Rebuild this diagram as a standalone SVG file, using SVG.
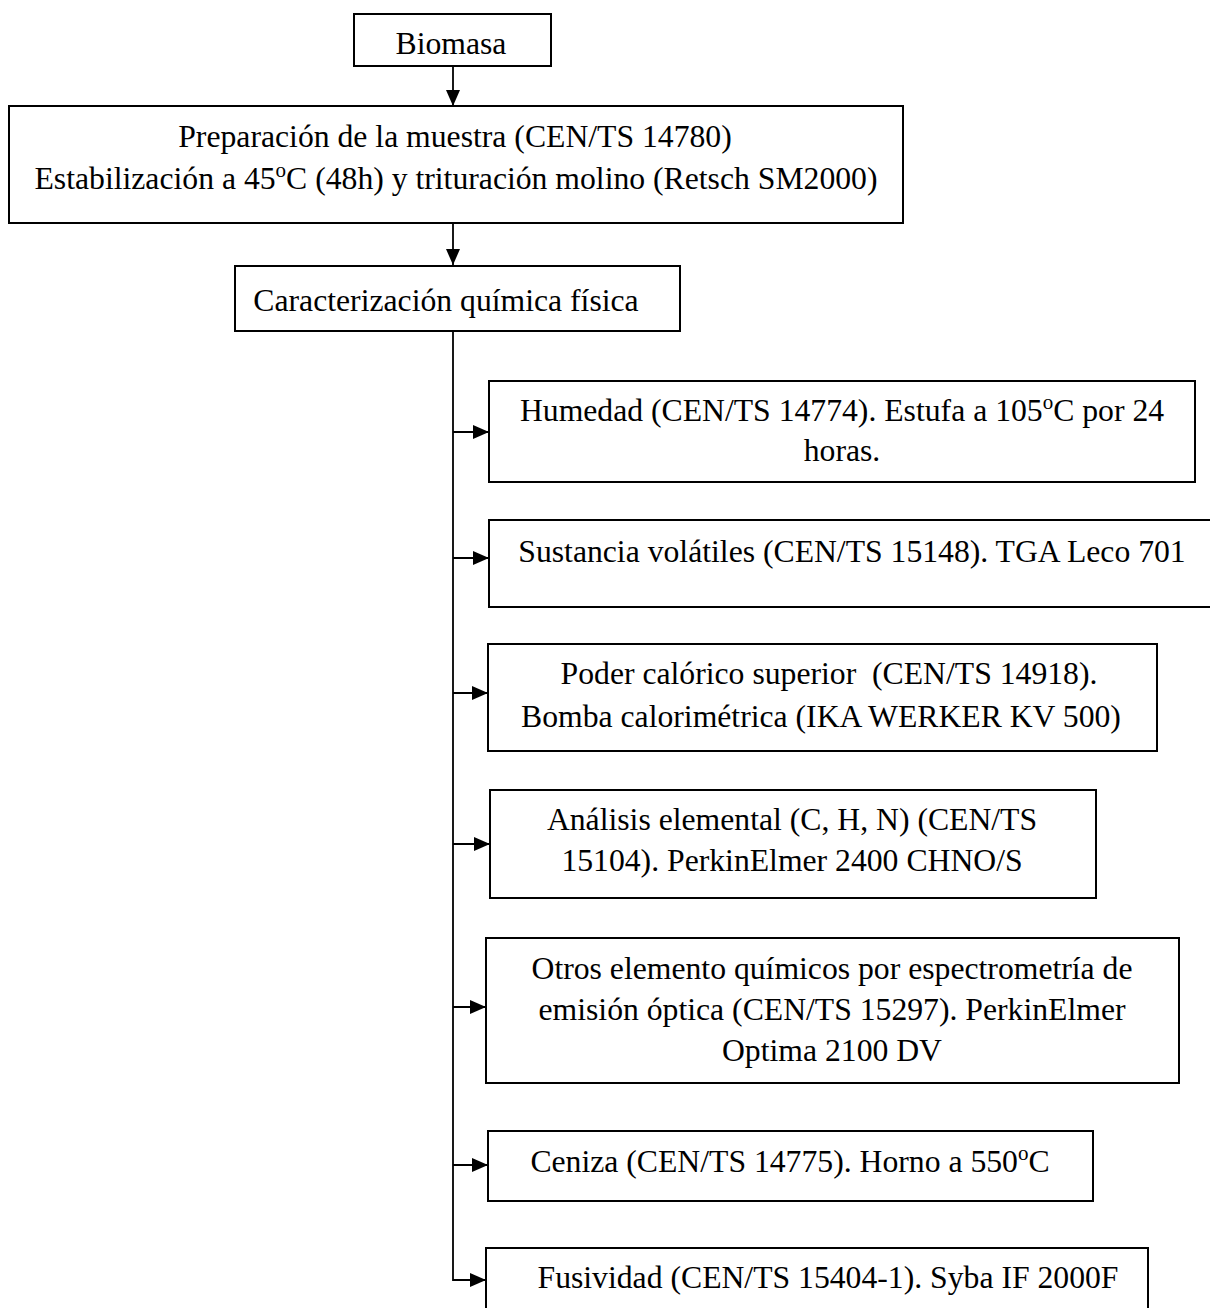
<svg xmlns="http://www.w3.org/2000/svg" width="1210" height="1308" viewBox="0 0 1210 1308">
<style>
.box{fill:#fff;stroke:#000;stroke-width:2}
.t{font-family:"Liberation Serif","Times New Roman",serif;font-size:31.7px;fill:#000;text-anchor:middle}
.c{fill:none;stroke:#000;stroke-width:1.8}
</style>
<defs>
<marker id="ah" markerWidth="16" markerHeight="14" refX="16" refY="7" orient="auto" markerUnits="userSpaceOnUse">
<path d="M0,0 L16,7 L0,14 z" fill="#000"/>
</marker>
</defs>
<rect width="1210" height="1308" fill="#fff"/>
<g id="connectors">
<line class="c" x1="453" y1="66" x2="453" y2="106" marker-end="url(#ah)"/>
<line class="c" x1="453" y1="223" x2="453" y2="265" marker-end="url(#ah)"/>
<path class="c" d="M453,331 V1280 H486" marker-end="url(#ah)"/>
<line class="c" x1="453" y1="432" x2="489" y2="432" marker-end="url(#ah)"/>
<line class="c" x1="453" y1="558" x2="489" y2="558" marker-end="url(#ah)"/>
<line class="c" x1="453" y1="693" x2="488" y2="693" marker-end="url(#ah)"/>
<line class="c" x1="453" y1="844" x2="490" y2="844" marker-end="url(#ah)"/>
<line class="c" x1="453" y1="1007" x2="486" y2="1007" marker-end="url(#ah)"/>
<line class="c" x1="453" y1="1165" x2="488" y2="1165" marker-end="url(#ah)"/>
</g>
<g id="biomasa">
<rect class="box" x="354" y="14" width="197" height="52"/>
<text class="t" x="451" y="54">Biomasa</text>
</g>
<g id="preparacion">
<rect class="box" x="9" y="106" width="894" height="117"/>
<text class="t" x="455" y="147">Preparación de la muestra (CEN/TS 14780)</text>
<text class="t" x="456" y="189">Estabilización a 45<tspan baseline-shift="super" font-size="21">o</tspan>C (48h) y trituración molino (Retsch SM2000)</text>
</g>
<g id="caracterizacion">
<rect class="box" x="235" y="266" width="445" height="65"/>
<text class="t" x="446" y="311">Caracterización química física</text>
</g>
<g id="humedad">
<rect class="box" x="489" y="381" width="706" height="101"/>
<text class="t" x="842" y="421">Humedad (CEN/TS 14774). Estufa a 105<tspan baseline-shift="super" font-size="21">o</tspan>C por 24</text>
<text class="t" x="842" y="461">horas.</text>
</g>
<g id="volatiles">
<rect class="box" x="489" y="520" width="740" height="87"/>
<text class="t" x="852" y="562">Sustancia volátiles (CEN/TS 15148). TGA Leco 701</text>
</g>
<g id="poder">
<rect class="box" x="488" y="644" width="669" height="107"/>
<text class="t" x="829" y="684" xml:space="preserve">Poder calórico superior  (CEN/TS 14918).</text>
<text class="t" x="821" y="727">Bomba calorimétrica (IKA WERKER KV 500)</text>
</g>
<g id="analisis">
<rect class="box" x="490" y="790" width="606" height="108"/>
<text class="t" x="792" y="830">Análisis elemental (C, H, N) (CEN/TS</text>
<text class="t" x="792" y="871">15104). PerkinElmer 2400 CHNO/S</text>
</g>
<g id="otros">
<rect class="box" x="486" y="938" width="693" height="145"/>
<text class="t" x="832" y="979">Otros elemento químicos por espectrometría de</text>
<text class="t" x="832" y="1020">emisión óptica (CEN/TS 15297). PerkinElmer</text>
<text class="t" x="832" y="1061">Optima 2100 DV</text>
</g>
<g id="ceniza">
<rect class="box" x="488" y="1131" width="605" height="70"/>
<text class="t" x="790" y="1172">Ceniza (CEN/TS 14775). Horno a 550<tspan baseline-shift="super" font-size="21">o</tspan>C</text>
</g>
<g id="fusividad">
<rect class="box" x="486" y="1248" width="662" height="80"/>
<text class="t" x="828" y="1288">Fusividad (CEN/TS 15404-1). Syba IF 2000F</text>
</g>
</svg>
